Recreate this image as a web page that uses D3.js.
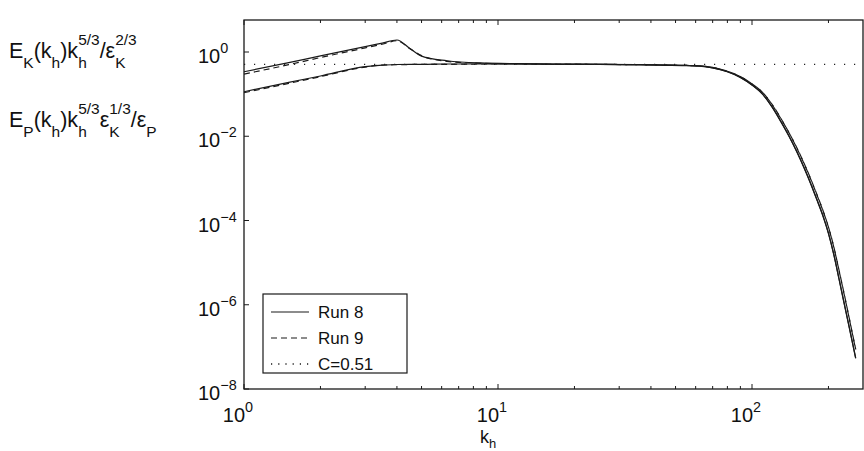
<!DOCTYPE html>
<html lang="en">
<head>
    <meta charset="UTF-8">
    <title>spectra</title>
    <style>
        body{ margin:0; background:#fff; }
        svg{ display:block; }
        text{ font-family:"Liberation Sans", Arial, sans-serif; fill:#111; }
    </style>
    <script src="https://cdn.jsdelivr.net/npm/d3@7"></script>
</head>
<body>
<script>
    const width = 864
    const height = 451

    // wavenumbers
    const kh = [1, 1.5, 2, 3, 3.5, 4, 4.5, 5, 6.3, 8.5, 12, 17, 25, 35, 45, 55, 62, 70, 80, 90, 100,
        110, 120, 130, 140, 150, 160, 170, 180, 190, 200, 210, 220, 230, 240, 250, 256]

    // Run 8 (solid)
    const run8K = [0.34, 0.56, 0.81, 1.34, 1.63, 1.93, 1.21, 0.80, 0.62, 0.55, 0.53, 0.52, 0.51, 0.50, 0.49, 0.48, 0.465, 0.42, 0.34, 0.25, 0.165,
        0.10, 0.049, 0.022, 0.0099, 0.0043, 0.00182, 7.6e-4, 3.1e-4, 1.3e-4, 4.9e-5, 1.52e-5, 4.1e-6, 1.14e-6, 3.4e-7, 1.05e-7, 5.3e-8]
    const run8P = [0.114, 0.19, 0.27, 0.45, 0.49, 0.505, 0.51, 0.51, 0.52, 0.52, 0.52, 0.51, 0.51, 0.50, 0.49, 0.475, 0.46, 0.42, 0.34, 0.25, 0.165,
        0.10, 0.05, 0.0225, 0.010, 0.0044, 0.00186, 7.8e-4, 3.2e-4, 1.34e-4, 5.0e-5, 1.56e-5, 4.2e-6, 1.18e-6, 3.5e-7, 1.08e-7, 5.5e-8]

    // Run 9 (dashed)
    const run9K = [0.30, 0.50, 0.74, 1.25, 1.53, 1.85, 1.20, 0.82, 0.60, 0.54, 0.52, 0.52, 0.51, 0.50, 0.49, 0.48, 0.47, 0.43, 0.35, 0.26, 0.175,
        0.11, 0.056, 0.026, 0.0119, 0.0053, 0.0023, 9.8e-4, 4.1e-4, 1.74e-4, 6.9e-5, 2.3e-5, 6.6e-6, 1.9e-6, 5.6e-7, 1.7e-7, 8.6e-8]
    const run9P = [0.108, 0.18, 0.26, 0.44, 0.49, 0.50, 0.505, 0.51, 0.51, 0.52, 0.52, 0.51, 0.51, 0.50, 0.49, 0.48, 0.47, 0.43, 0.35, 0.26, 0.175,
        0.11, 0.057, 0.0265, 0.012, 0.0054, 0.00235, 1.0e-3, 4.2e-4, 1.78e-4, 7.0e-5, 2.35e-5, 6.7e-6, 1.95e-6, 5.7e-7, 1.75e-7, 8.8e-8]

    const cConst = 0.51

    const yTicks = [0, -2, -4, -6, -8]   // exponents
    const xTicks = [0, 1, 2]
    const xMinor = [2, 3, 4, 5, 6, 7, 8, 9, 20, 30, 40, 50, 60, 70, 80, 90, 200]

    const legendItems = [
        {label: "Run 8", dash: null},
        {label: "Run 9", dash: "6,4"},
        {label: "C=0.51", dash: "1.2,6"}
    ]

    const plot = {left: 244, top: 20, right: 863, bottom: 389}

    const svg = d3.select("body").append("svg")
        .attr("width", width)
        .attr("height", height)

    const x = d3.scaleLog()
        .domain([1, Math.pow(10, (plot.right - plot.left) / 254)])
        .range([plot.left, plot.right])

    const y = d3.scaleLog()
        .domain([1e-8, Math.pow(10, 0.76)])
        .range([plot.bottom, plot.top])

    // draws text with sub/superscripts, tokens: [text, mode, stacked]
    function richText(g, x0, y0, tokens, size, supShift, subShift){
        supShift = supShift || 0.62
        subShift = subShift || 0.45
        let cx = x0, lastStart = x0
        tokens.forEach(tok => {
            const [txt, mode, stack] = tok
            const fs = mode === "n" ? size : size * 0.72
            const dy = mode === "sub" ? size * subShift : mode === "sup" ? -size * supShift : 0
            const px = stack ? lastStart : cx
            const el = g.append("text")
                .attr("x", px).attr("y", y0 + dy)
                .attr("font-size", fs)
                .text(txt)
            const w = el.node().getComputedTextLength()
            if (stack){
                cx = Math.max(cx, px + w)
            } else {
                lastStart = px
                cx = px + w
            }
        })
        return cx - x0
    }

    // curves
    const line = d3.line()
        .x(d => x(d[0]))
        .y(d => y(d[1]))
        .curve(d3.curveMonotoneX)

    const gCurves = svg.append("g")
    const series = [
        {vals: run8K, dash: null},
        {vals: run8P, dash: null},
        {vals: run9K, dash: "6,4"},
        {vals: run9P, dash: "6,4"}
    ]
    series.forEach(s => {
        gCurves.append("path")
            .datum(kh.map((k, i) => [k, s.vals[i]]))
            .attr("d", line)
            .attr("fill", "none")
            .attr("stroke", "#1a1a1a")
            .attr("stroke-width", 1.2)
            .attr("stroke-dasharray", s.dash)
    })

    gCurves.append("line")
        .attr("x1", x(1)).attr("x2", plot.right)
        .attr("y1", y(cConst)).attr("y2", y(cConst))
        .attr("stroke", "#222")
        .attr("stroke-width", 1.3)
        .attr("stroke-dasharray", "1.2,8.8")

    // axes box
    svg.append("rect")
        .attr("x", plot.left).attr("y", plot.top)
        .attr("width", plot.right - plot.left)
        .attr("height", plot.bottom - plot.top)
        .attr("fill", "none")
        .attr("stroke", "#1a1a1a")
        .attr("stroke-width", 1.3)

    const gTicks = svg.append("g").attr("stroke", "#1a1a1a").attr("stroke-width", 1)

    yTicks.forEach(e => {
        const yy = y(Math.pow(10, e))
        gTicks.append("line").attr("x1", plot.left).attr("x2", plot.left + 5)
            .attr("y1", yy).attr("y2", yy)
        richText(svg, 198, yy + 11, [["10", "n"], [String(e).replace("-", "\u2212"), "sup"]], 20, 0.5)
    })

    xTicks.forEach(e => {
        const xx = x(Math.pow(10, e))
        gTicks.append("line").attr("x1", xx).attr("x2", xx)
            .attr("y1", plot.bottom).attr("y2", plot.bottom - 5)
        gTicks.append("line").attr("x1", xx).attr("x2", xx)
            .attr("y1", plot.top).attr("y2", plot.top + 5)
        const g = svg.append("g")
        const w = richText(g, 0, 422, [["10", "n"], [String(e), "sup"]], 20, 0.5)
        g.attr("transform", `translate(${xx - 6 - w / 2},0)`)
    })

    xMinor.forEach(k => {
        const xx = x(k)
        gTicks.append("line").attr("x1", xx).attr("x2", xx)
            .attr("y1", plot.bottom).attr("y2", plot.bottom - 3)
        gTicks.append("line").attr("x1", xx).attr("x2", xx)
            .attr("y1", plot.top).attr("y2", plot.top + 3)
    })

    // x label
    const gx = svg.append("g")
    const wx = richText(gx, 0, 443, [["k", "n"], ["h", "sub"]], 18, 0.5, 0.25)
    gx.attr("transform", `translate(${488 - wx / 2},0)`)

    // y labels (left)
    richText(svg, 9, 58, [
        ["E", "n"], ["K", "sub"], ["(k", "n"], ["h", "sub"], [")k", "n"], ["h", "sub"], ["5/3", "sup", true],
        ["/\u03b5", "n"], ["K", "sub"], ["2/3", "sup", true]
    ], 21.5)
    richText(svg, 9, 127, [
        ["E", "n"], ["P", "sub"], ["(k", "n"], ["h", "sub"], [")k", "n"], ["h", "sub"], ["5/3", "sup", true],
        ["\u03b5", "n"], ["K", "sub"], ["1/3", "sup", true], ["/\u03b5", "n"], ["P", "sub"]
    ], 21.5)

    // legend
    const gLeg = svg.append("g")
    gLeg.append("rect")
        .attr("x", 263).attr("y", 294)
        .attr("width", 144).attr("height", 79)
        .attr("fill", "#fff")
        .attr("stroke", "#1a1a1a")
        .attr("stroke-width", 1.2)
    legendItems.forEach((d, i) => {
        const yy = 312 + i * 26
        gLeg.append("line")
            .attr("x1", 271).attr("x2", 309)
            .attr("y1", yy).attr("y2", yy)
            .attr("stroke", "#1a1a1a")
            .attr("stroke-width", d.dash && d.dash.startsWith("1.2") ? 1.4 : 1.2)
            .attr("stroke-dasharray", d.dash)
        gLeg.append("text")
            .attr("x", 318).attr("y", yy + 6)
            .attr("font-size", 17)
            .text(d.label)
    })
</script>
</body>
</html>
